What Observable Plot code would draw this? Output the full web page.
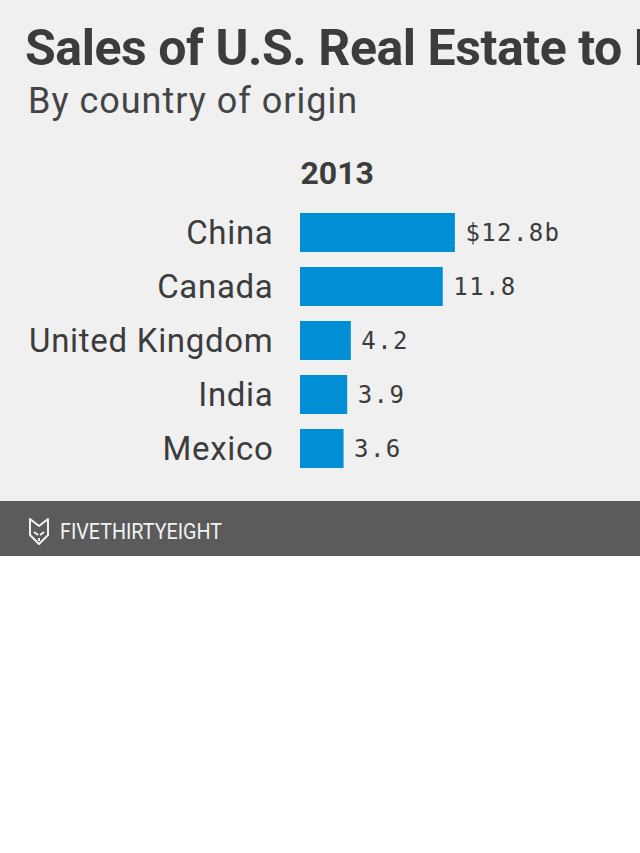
<!DOCTYPE html>
<html><head><meta charset="utf-8">
<script src="https://cdn.jsdelivr.net/npm/d3@7"></script>
<script src="https://cdn.jsdelivr.net/npm/@observablehq/plot@0.6"></script>
<style>
html,body{margin:0;padding:0;background:#fff;}
#card{position:relative;width:640px;height:501px;background:#f0f0f0;overflow:hidden;font-family:Roboto,"Noto Sans",sans-serif;}
#title{position:absolute;left:25px;top:23px;font-size:50px;line-height:50px;font-weight:700;color:#3c3c3c;white-space:nowrap;letter-spacing:-0.45px}
#subtitle{position:absolute;left:28px;top:83px;font-size:36px;line-height:36px;color:#444;white-space:nowrap;letter-spacing:1px}
#chart{position:absolute;left:0;top:150px}
#chart g[font-family="DejaVu Sans Mono"] text{letter-spacing:1.4px}
#chart g.cat text{letter-spacing:0.7px}
#footer{width:640px;height:55px;background:#5b5b5c;}
</style></head>
<body>
<div id="card">
  <div id="title">Sales of U.S. Real Estate to Foreign Buyers</div>
  <div id="subtitle">By country of origin</div>
  <div id="chart"></div>
</div>
<div id="footer"><svg width="640" height="55">
<g transform="translate(29,17)" fill="none" stroke="#f2f2f2" stroke-width="2" stroke-linejoin="round">
<path d="M1,1 L10,8 L19,1 L19,17 L10,26 L1,17 Z"/>
<path d="M5,14 L9,17 M15,14 L11,17 M10,20 L10,23"/>
</g>
<text x="60" y="38" fill="#f2f2f2" font-family="Roboto" font-size="22" textLength="162" lengthAdjust="spacingAndGlyphs">FIVETHIRTYEIGHT</text>
</svg></div>
<script>
const countries = ["China", "Canada", "United Kingdom", "India", "Mexico"];
const sales = [12.8, 11.8, 4.2, 3.9, 3.6];
const year = "2013";

const data = countries.map((c, i) => ({country: c, value: sales[i]}));
const fmt = (v, i) => i === 0 ? `$${v.toFixed(1)}b` : v.toFixed(1);

const chart = Plot.plot({
  width: 640, height: 330,
  marginLeft: 300, marginRight: 0, marginTop: 0, marginBottom: 0,
  style: {background: "transparent", overflow: "visible", fontFamily: "Roboto"},
  x: {domain: [0, 28.1], axis: null},
  y: {domain: countries, range: [63, 318], paddingInner: 15 / 54, paddingOuter: 0, axis: null},
  marks: [
    Plot.barX(data, {x: "value", y: "country", fill: "#008fd5"}),
    Plot.text(data, {x: 0, y: "country", text: "country", textAnchor: "end", dx: -27, fontSize: 33, fill: "#3c3c3c", className: "cat"}),
    Plot.text(data, {x: "value", y: "country", text: (d, i) => fmt(d.value, i), textAnchor: "start", dx: 10, fontSize: 24, fontFamily: "DejaVu Sans Mono", fill: "#3c3c3c"}),
    Plot.text([year], {frameAnchor: "top-left", text: d => d, textAnchor: "start", lineAnchor: "top", dy: 11, fontSize: 32, fontWeight: 700, fill: "#3c3c3c"})
  ]
});
document.getElementById("chart").appendChild(chart);
</script>
</body></html>
